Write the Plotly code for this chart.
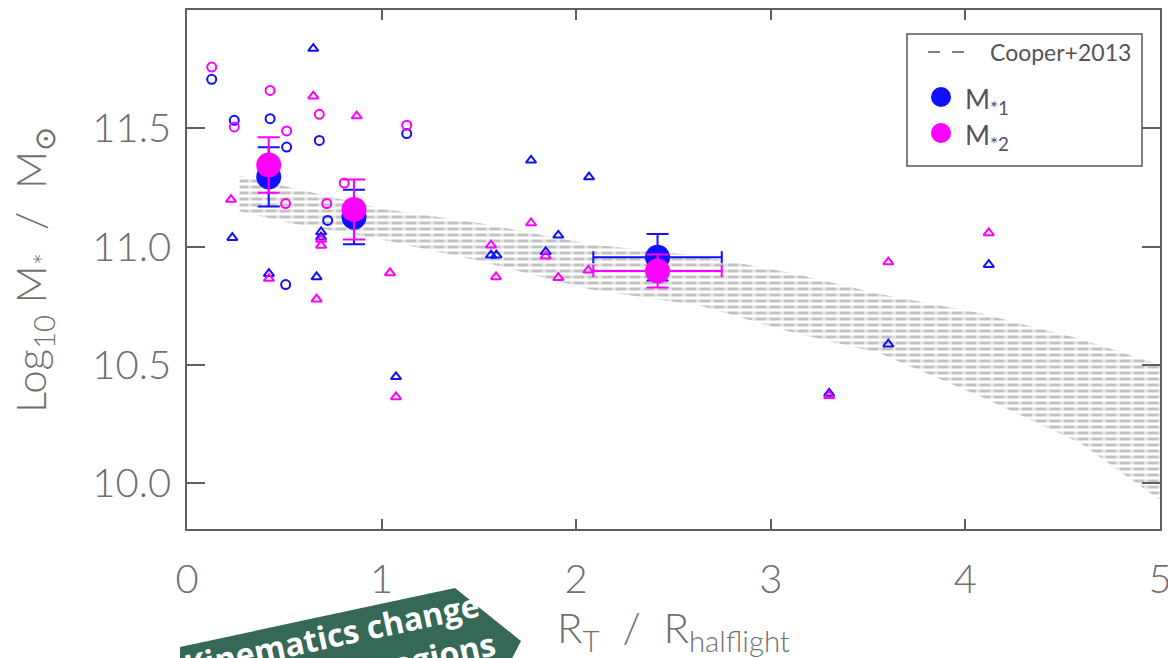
import plotly.graph_objects as go

# ---------------- data ----------------
# Cooper+2013 model envelope (upper / lower edge of the hatched band)
band_x = [0.27, 0.53, 1.00, 1.50, 2.07, 2.64, 3.10, 3.56, 4.07, 4.59, 5.00]
band_hi = [11.30, 11.25, 11.16, 11.10, 11.01, 10.96, 10.89, 10.80, 10.72, 10.61, 10.50]
band_lo = [11.15, 11.10, 11.03, 10.94, 10.82, 10.75, 10.64, 10.55, 10.37, 10.17, 9.93]

# individual galaxies, open circles
circ1_x = [0.127, 0.243, 0.427, 0.512, 0.680, 1.129, 0.507, 0.723]
circ1_y = [11.707, 11.534, 11.541, 11.421, 11.449, 11.478, 10.840, 11.111]
circ2_x = [0.127, 0.243, 0.427, 0.512, 0.680, 1.129, 0.507, 0.718, 0.808]
circ2_y = [11.759, 11.506, 11.660, 11.489, 11.559, 11.513, 11.182, 11.182, 11.269]

# individual galaxies, open triangles
tri1_x = [0.649, 0.233, 0.421, 0.666, 0.689, 0.689, 1.074, 1.768, 2.066, 1.908,
          1.562, 1.590, 1.843, 3.300, 3.604, 4.120]
tri1_y = [11.837, 11.038, 10.886, 10.872, 11.062, 11.040, 10.450, 11.365, 11.294, 11.048,
          10.964, 10.964, 10.978, 10.380, 10.588, 10.924]
tri2_x = [0.649, 0.872, 0.226, 0.421, 0.666, 0.689, 0.689, 1.043, 1.074, 1.768,
          2.062, 1.908, 1.562, 1.588, 1.843, 3.300, 3.604, 4.120]
tri2_y = [11.636, 11.552, 11.199, 10.865, 10.778, 11.030, 11.005, 10.889, 10.365, 11.100,
          10.900, 10.869, 11.006, 10.872, 10.960, 10.370, 10.935, 11.058]

# binned means with errors
bin_x = [0.42, 0.858, 2.418]
bin_xerr = [0.0, 0.0, 0.33]
mean1_y = [11.295, 11.125, 10.955]
mean1_err = [0.125, 0.115, 0.098]
mean2_y = [11.345, 11.157, 10.897]
mean2_err = [0.117, 0.127, 0.070]

# ---------------- styling ----------------
BLUE = "#1010ff"
MAGENTA = "#ff00ff"
AXIS = "#5f5f5f"
TEXT = "#6f6f6f"
FONT = "Lato"

W, H = 1168, 658
ML, MR, MT, MB = 187, 8, 10, 129


def paper(px, py):
    """pixel position -> paper coordinates"""
    return ((px - ML) / (W - ML - MR), (H - MB - py) / (H - MT - MB))


fig = go.Figure()

# hatched model band: horizontal strokes, broken into dashes by a white overlay
poly_x = band_x + band_x[::-1] + [band_x[0]]
poly_y = band_hi + band_lo[::-1] + [band_hi[0]]
fig.add_trace(go.Scatter(
    x=poly_x, y=poly_y, mode="lines", fill="toself",
    line=dict(width=0, color="rgba(0,0,0,0)"),
    fillcolor="rgba(0,0,0,0)",
    fillpattern=dict(shape="-", fgcolor="#858585", bgcolor="rgba(0,0,0,0)",
                     size=6, solidity=0.5, fillmode="overlay"),
    hoverinfo="skip", showlegend=False))
fig.add_trace(go.Scatter(
    x=poly_x, y=poly_y, mode="lines", fill="toself",
    line=dict(width=0, color="rgba(0,0,0,0)"),
    fillcolor="rgba(0,0,0,0)",
    fillpattern=dict(shape="|", fgcolor="white", bgcolor="rgba(0,0,0,0)",
                     size=14, solidity=0.3, fillmode="overlay"),
    hoverinfo="skip", showlegend=False))

# individual galaxies
for xs, ys, sym, col in [
    (circ1_x, circ1_y, "circle-open", BLUE),
    (circ2_x, circ2_y, "circle-open", MAGENTA),
    (tri1_x, tri1_y, "triangle-up-open", BLUE),
    (tri2_x, tri2_y, "triangle-up-open", MAGENTA),
]:
    fig.add_trace(go.Scatter(
        x=xs, y=ys, mode="markers",
        marker=dict(symbol=sym, size=9, color=col, line=dict(width=2, color=col)),
        showlegend=False))

# binned means
for ys, errs, col in [(mean1_y, mean1_err, BLUE), (mean2_y, mean2_err, MAGENTA)]:
    fig.add_trace(go.Scatter(
        x=bin_x, y=ys, mode="markers",
        marker=dict(symbol="circle", size=25, color=col),
        error_y=dict(type="data", array=errs, color=col, thickness=2, width=11),
        error_x=dict(type="data", array=bin_xerr, color=col, thickness=2, width=6),
        showlegend=False))

# ---------------- legend box ----------------
shapes = []
x0, y0 = paper(907, 34)
x1, y1 = paper(1142, 166)
shapes.append(dict(type="rect", xref="paper", yref="paper", x0=x0, y0=y1, x1=x1, y1=y0,
                   line=dict(color="#555555", width=1.5), fillcolor="white", layer="above"))
lx0, ly = paper(928, 52)
lx1, _ = paper(965, 52)
shapes.append(dict(type="line", xref="paper", yref="paper", x0=lx0, y0=ly, x1=lx1, y1=ly,
                   line=dict(color="#808080", width=2, dash="12px,12px"), layer="above"))
for cy, col in [(97, BLUE), (133, MAGENTA)]:
    ax0, ay0 = paper(931, cy - 10)
    ax1, ay1 = paper(951, cy + 10)
    shapes.append(dict(type="circle", xref="paper", yref="paper", x0=ax0, y0=ay1,
                       x1=ax1, y1=ay0, line=dict(width=0), fillcolor=col, layer="above"))

# banner
banner = [(180, 647), (455, 588), (521, 641), (488, 705), (180, 770)]
path = "M " + " L ".join("%f,%f" % paper(px, py) for px, py in banner) + " Z"
shapes.append(dict(type="path", xref="paper", yref="paper", path=path,
                   fillcolor="#356856", line=dict(width=0), layer="above"))

annotations = []
tx, ty = paper(1133, 52)
annotations.append(dict(xref="paper", yref="paper", x=tx, y=ty, xanchor="right", yanchor="middle",
                        text="Cooper+2013", showarrow=False,
                        font=dict(family=FONT, size=23, color="#555555")))
for cy, lab in [(97, "M<sub>*1</sub>"), (133, "M<sub>*2</sub>")]:
    ax, ay = paper(963, cy + 3)
    annotations.append(dict(xref="paper", yref="paper", x=ax, y=ay, xanchor="left",
                            yanchor="middle", text=lab, showarrow=False,
                            font=dict(family=FONT, size=27, color="#555555")))

bx, by = paper(336, 655)
annotations.append(dict(xref="paper", yref="paper", x=bx, y=by, xanchor="center", yanchor="middle",
                        text="<b>Kinematics change<br>in the outer regions</b>", textangle=-12,
                        showarrow=False, align="center",
                        font=dict(family="Open Sans", size=32, color="white")))

# y-axis title
yx, yy = paper(33, 270)
annotations.append(dict(xref="paper", yref="paper", x=yx, y=yy, xanchor="center", yanchor="middle",
                        text="Log<sub>10</sub> M<sub>*</sub>  /  M<sub>⊙</sub>", textangle=-90,
                        showarrow=False,
                        font=dict(family=FONT, size=42, color=TEXT, weight=300)))

axis_common = dict(
    showline=True, linecolor=AXIS, linewidth=1.5, mirror="ticks",
    ticks="inside", tickcolor=AXIS, tickwidth=1.5, automargin=False,
    showgrid=False, zeroline=False, ticklabeloverflow="allow",
    tickfont=dict(family=FONT, size=40, color=TEXT, weight=300),
)

fig.update_layout(
    width=W, height=H,
    margin=dict(l=ML, r=MR, t=MT, b=MB, autoexpand=False),
    paper_bgcolor="white", plot_bgcolor="white",
    showlegend=False,
    shapes=shapes, annotations=annotations,
    xaxis=dict(axis_common, range=[0, 5], tickvals=[0, 1, 2, 3, 4, 5], ticklen=10,
               ticklabelstandoff=14,
               title=dict(text="R<sub>T</sub>  /  R<sub>halflight</sub>", standoff=10,
                          font=dict(family=FONT, size=42, color=TEXT, weight=300))),
    yaxis=dict(axis_common, range=[9.807, 12.0], tickvals=[10.0, 10.5, 11.0, 11.5],
               tickformat=".1f", ticklen=18, ticklabelstandoff=6),
)

fig.write_html("out.html")
